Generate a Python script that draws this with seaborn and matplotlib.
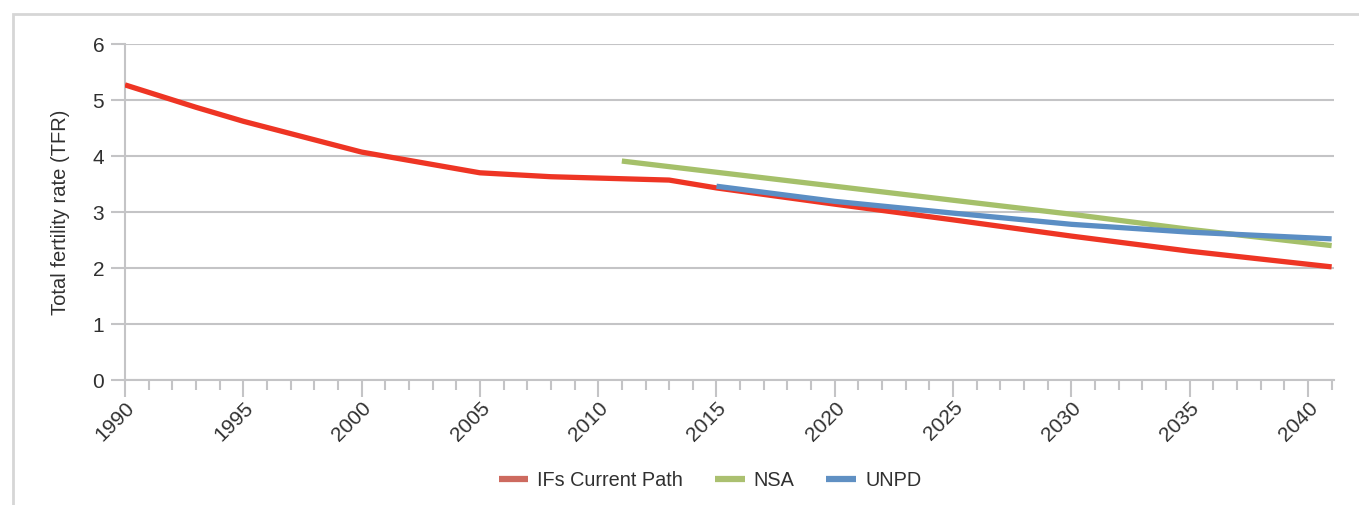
"""Total fertility rate: IFs current path vs NSA and UNPD projections."""

import matplotlib
matplotlib.use("Agg")
import matplotlib.pyplot as plt
from matplotlib.lines import Line2D
from matplotlib.patches import Rectangle
from matplotlib.ticker import MultipleLocator
import pandas as pd
import seaborn as sns

# Data
ifs_years = [1990, 1993, 1995, 2000, 2005, 2008, 2013, 2015, 2020, 2025, 2030, 2035, 2041]
ifs_tfr = [5.27, 4.87, 4.62, 4.07, 3.70, 3.63, 3.57, 3.43, 3.14, 2.86, 2.57, 2.30, 2.02]

nsa_years = [2011, 2015, 2020, 2025, 2030, 2035, 2041]
nsa_tfr = [3.91, 3.71, 3.46, 3.21, 2.96, 2.69, 2.40]

unpd_years = [2015, 2020, 2025, 2030, 2035, 2040, 2041]
unpd_tfr = [3.46, 3.19, 2.98, 2.78, 2.64, 2.54, 2.52]

series_names = ["IFs Current Path", "NSA", "UNPD"]
line_colors = ["#ee3524", "#a5c06a", "#5b8ec4"]
legend_colors = ["#cd6a5f", "#abc070", "#6090c3"]

df = pd.concat([
    pd.DataFrame({"year": ifs_years, "tfr": ifs_tfr, "series": series_names[0]}),
    pd.DataFrame({"year": nsa_years, "tfr": nsa_tfr, "series": series_names[1]}),
    pd.DataFrame({"year": unpd_years, "tfr": unpd_tfr, "series": series_names[2]}),
])

sns.set_theme(style="white")
plt.rcParams["font.family"] = ["Liberation Sans", "DejaVu Sans"]

GRID = "#c4c4c6"
TEXT = "#303030"

fig = plt.figure(figsize=(13.59, 5.05), dpi=100)
fig.patches.append(Rectangle((13 / 1359, -0.1), 1.2, 1 - 14 / 505 + 0.1,
                             transform=fig.transFigure, fill=False,
                             edgecolor="#d6d6d6", linewidth=2))
ax = fig.add_axes([125 / 1359, 1 - 380 / 505, (1334 - 125) / 1359, (380 - 44) / 505])

sns.lineplot(data=df, x="year", y="tfr", hue="series", hue_order=series_names,
             palette=dict(zip(series_names, line_colors)), linewidth=3.8,
             solid_capstyle="butt", legend=False, ax=ax, zorder=3)

ax.set_xlim(1990, 2041.1)
ax.set_ylim(0, 6)
ax.xaxis.set_major_locator(MultipleLocator(5))
ax.xaxis.set_minor_locator(MultipleLocator(1))
ax.yaxis.set_major_locator(MultipleLocator(1))

ax.grid(axis="y", color=GRID, linewidth=1.5, zorder=0)
ax.grid(axis="x", visible=False)
for side in ["top", "right"]:
    ax.spines[side].set_visible(False)
for side in ["left", "bottom"]:
    ax.spines[side].set_color(GRID)
    ax.spines[side].set_linewidth(1.5)

ax.tick_params(axis="x", which="major", bottom=True, length=12, width=1.5,
               color=GRID, labelsize=15, labelcolor=TEXT, pad=1)
ax.tick_params(axis="x", which="minor", bottom=True, length=7, width=1.5, color=GRID)
ax.tick_params(axis="y", which="major", left=True, length=10, width=1.5,
               color=GRID, labelsize=15, labelcolor=TEXT, pad=5)
for lbl in ax.get_xticklabels():
    lbl.set_rotation(45)
    lbl.set_ha("right")
    lbl.set_rotation_mode("anchor")

ax.set_xlabel("")
ax.set_ylabel("Total fertility rate (TFR)", fontsize=14.5, color=TEXT, labelpad=16)

handles = [Line2D([], [], color=c, linewidth=4.5, solid_capstyle="butt") for c in legend_colors]
fig.legend(handles, series_names, loc="center", bbox_to_anchor=(710 / 1359, 1 - 480 / 505),
           ncol=3, frameon=False, fontsize=14.3, handlelength=1.5, handletextpad=0.45,
           columnspacing=1.6, labelcolor=TEXT)

fig.savefig("out.png", dpi=100)
